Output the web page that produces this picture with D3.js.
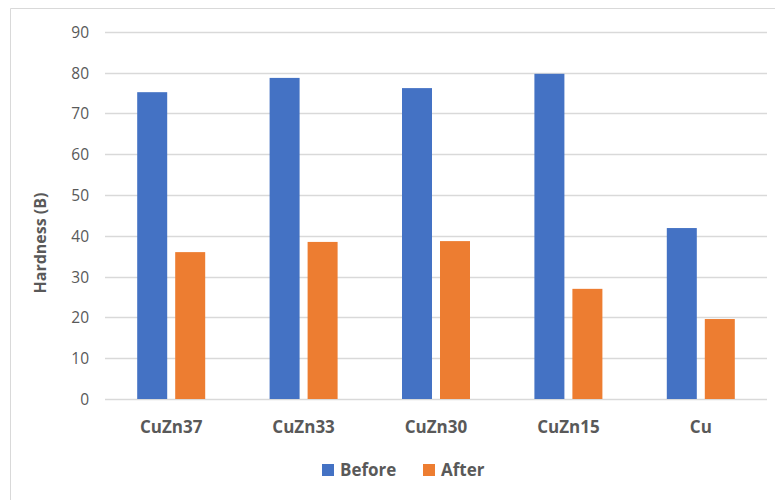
<!DOCTYPE html>
<html>
<head>
<meta charset="utf-8">
<script src="https://cdn.jsdelivr.net/npm/d3@7"></script>
<style>
  html, body { margin: 0; padding: 0; background: #fff; }
  svg { display: block; font-family: "Open Sans", "Noto Sans", sans-serif; }
</style>
</head>
<body>
<svg id="chart" width="775" height="500"></svg>
<script>
// Hardness of brass/copper samples before and after treatment
const categories = ["CuZn37", "CuZn33", "CuZn30", "CuZn15", "Cu"];
const seriesNames = ["Before", "After"];
const beforeValues = [75.2, 78.7, 76.2, 79.7, 41.9];
const afterValues = [36.0, 38.5, 38.7, 27.0, 19.6];
const yTicks = [0, 10, 20, 30, 40, 50, 60, 70, 80, 90];
const colors = ["#4472C4", "#ED7D31"];

const svg = d3.select("#chart");
const plot = { left: 105, right: 767, top: 31.8, bottom: 399 };

// outer chart frame
svg.append("path")
  .attr("d", "M10.5,500 V8.5 H775")
  .attr("fill", "none")
  .attr("stroke", "#d9d9d9")
  .attr("stroke-width", 1);

const x = d3.scaleBand().domain(categories).range([plot.left, plot.right]);
const y = d3.scaleLinear().domain([0, 90]).range([plot.bottom, plot.top]);

// gridlines
svg.append("g").selectAll("line").data(yTicks).join("line")
  .attr("x1", plot.left).attr("x2", plot.right)
  .attr("y1", d => Math.round(y(d)) + 0.5).attr("y2", d => Math.round(y(d)) + 0.5)
  .attr("stroke", "#d9d9d9").attr("stroke-width", 1.3);

// y axis labels
const yAxis = d3.axisLeft(y).tickValues(yTicks).tickSize(0).tickPadding(0);
const gy = svg.append("g").attr("transform", `translate(89,0)`).call(yAxis);
gy.select(".domain").remove();
gy.selectAll("text")
  .attr("font-family", "\"Open Sans\", sans-serif")
  .attr("font-size", 15.5).attr("fill", "#595959").attr("dy", "0.35em");

// bars
const barW = 30, gap = 8;
const series = [beforeValues, afterValues];
series.forEach((vals, si) => {
  svg.append("g").selectAll("rect").data(categories).join("rect")
    .attr("x", c => x(c) + x.bandwidth() / 2 + (si === 0 ? -gap / 2 - barW : gap / 2))
    .attr("y", (c, i) => y(vals[i]))
    .attr("width", barW)
    .attr("height", (c, i) => y(0) - y(vals[i]))
    .attr("fill", colors[si]);
});

// x axis labels
const xAxis = d3.axisBottom(x).tickSize(0).tickPadding(0);
const gx = svg.append("g").attr("transform", `translate(0,${plot.bottom})`).call(xAxis);
gx.select(".domain").remove();
gx.selectAll("text")
  .attr("y", 28).attr("dy", "0.35em")
  .attr("font-family", "\"Open Sans\", sans-serif")
  .attr("font-size", 17).attr("font-weight", "bold").attr("fill", "#595959");

// y axis title
svg.append("text")
  .attr("transform", "translate(40,243) rotate(-90)")
  .attr("text-anchor", "middle").attr("dy", "0.35em")
  .attr("font-size", 16).attr("font-weight", "bold").attr("fill", "#595959")
  .text("Hardness (B)");

// legend
const legendItems = [{ name: seriesNames[0], x: 322 }, { name: seriesNames[1], x: 423 }];
const lg = svg.append("g");
legendItems.forEach((it, i) => {
  lg.append("rect").attr("x", it.x).attr("y", 464).attr("width", 12).attr("height", 12).attr("fill", colors[i]);
  lg.append("text").attr("x", it.x + 18).attr("y", 470).attr("dy", "0.35em")
    .attr("font-size", 17).attr("font-weight", "bold").attr("fill", "#595959").text(it.name);
});
</script>
</body>
</html>
